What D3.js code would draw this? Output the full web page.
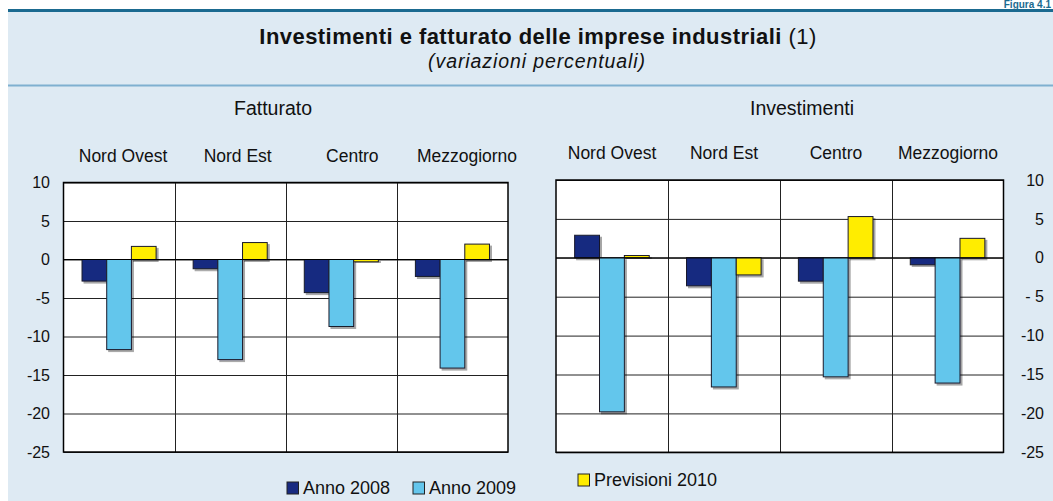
<!DOCTYPE html>
<html><head><meta charset="utf-8">
<script src="https://cdn.jsdelivr.net/npm/d3@7"></script>
<style>
html,body{margin:0;padding:0;background:#fff;}
svg{display:block;font-family:"Liberation Sans",Arial,Helvetica,sans-serif;}
</style></head>
<body>
<script>
const categories = ["Nord Ovest","Nord Est","Centro","Mezzogiorno"];
const seriesNames = ["Anno 2008","Anno 2009","Previsioni 2010"];
const fatturato2008 = [-2.8,-1.2,-4.3,-2.2];
const fatturato2009 = [-11.7,-13.0,-8.7,-14.1];
const fatturato2010 = [1.7,2.2,-0.3,2.0];
const investimenti2008 = [2.9,-3.6,-3.0,-0.9];
const investimenti2009 = [-19.8,-16.6,-15.3,-16.1];
const investimenti2010 = [0.3,-2.2,5.3,2.5];
const tickValues = [10,5,0,-5,-10,-15,-20,-25];
const leftTickLabels = ["10","5","0","-5","-10","-15","-20","-25"];
const rightTickLabels = ["10","5","0","- 5","-10","-15","-20","-25"];
const titleBold = "Investimenti e fatturato delle imprese industriali";
const titleNote = " (1)";
const subtitle = "(variazioni percentuali)";
const panelTitles = ["Fatturato","Investimenti"];
const figureLabel = "Figura 4.1";

const colors = ["#182a80","#64c6ec","#ffed00"];
const W = 1053, H = 501;
const svg = d3.select("body").append("svg").attr("width",W).attr("height",H);

// background
svg.append("rect").attr("x",8).attr("y",10).attr("width",W-8).attr("height",H-10).attr("fill","#deeaf3");
svg.append("rect").attr("x",8).attr("y",9).attr("width",W-8).attr("height",3).attr("fill","#1b6a90");
svg.append("rect").attr("x",8).attr("y",84.5).attr("width",W-8).attr("height",2).attr("fill","#7fb0d0");
svg.append("text").attr("x",1051).attr("y",8).attr("text-anchor","end").attr("font-weight","bold")
  .attr("font-size",10).attr("fill","#1b6a90").text(figureLabel);

// titles
const t = svg.append("text").attr("x",538).attr("y",43.5).attr("text-anchor","middle").attr("font-size",22)
  .attr("letter-spacing",0.45).attr("fill","#111");
t.append("tspan").attr("font-weight","bold").text(titleBold);
t.append("tspan").text(titleNote);
svg.append("text").attr("x",537).attr("y",68).attr("text-anchor","middle").attr("font-size",19.5)
  .attr("letter-spacing",0.9).attr("font-style","italic").attr("fill","#111").text(subtitle);

const defs = svg.append("defs");
const f = defs.append("filter").attr("id","sh").attr("x","-20%").attr("y","-20%").attr("width","150%").attr("height","150%");
f.append("feOffset").attr("in","SourceAlpha").attr("dx",1.5).attr("dy",1.5).attr("result","o");
f.append("feGaussianBlur").attr("in","o").attr("stdDeviation",0.6).attr("result","b");
f.append("feComponentTransfer").attr("in","b").attr("result","c").append("feFuncA").attr("type","linear").attr("slope",0.35);
const m = f.append("feMerge"); m.append("feMergeNode").attr("in","c"); m.append("feMergeNode").attr("in","SourceGraphic");

function panel(cfg){
  const {x0,x1,yTop,yBot,data,tickLabels,side,title,titleX,titleY,catY,labelRange} = cfg;
  const x = d3.scaleBand().domain(categories).range([x0,x1]);
  const xs = d3.scaleBand().domain(seriesNames).range([0,x.bandwidth()]).paddingOuter(0.75).paddingInner(0);
  const y = d3.scaleLinear().domain([-25,10]).range([yBot,yTop]);
  const g = svg.append("g");
  g.append("rect").attr("x",x0).attr("y",yTop).attr("width",x1-x0).attr("height",yBot-yTop).attr("fill","#fff");
  // grid
  const grid = g.append("g").attr("transform",`translate(${side==="left"?x0:x1},0)`)
    .call((side==="left"?d3.axisLeft(y):d3.axisRight(y)).tickValues(tickValues)
      .tickSize(-(x1-x0)).tickFormat(""));
  grid.select(".domain").remove();
  grid.selectAll(".tick line").attr("stroke","#222").attr("stroke-width",1);
  // vertical separators
  g.selectAll("line.sep").data(categories.slice(1)).join("line")
    .attr("x1",d=>Math.round(x(d))+0.5).attr("x2",d=>Math.round(x(d))+0.5).attr("y1",yTop).attr("y2",yBot)
    .attr("stroke","#222").attr("stroke-width",1);
  // bars
  const rows = categories.map((c,i)=>({c, vals: data.map((s,j)=>({s:seriesNames[j], v:s[i], j}))}));
  const bg = g.selectAll("g.grp").data(rows).join("g").attr("transform",d=>`translate(${x(d.c)},0)`);
  bg.selectAll("rect").data(d=>d.vals).join("rect")
    .attr("x",d=>xs(d.s)).attr("width",xs.bandwidth())
    .attr("y",d=>y(Math.max(0,d.v))).attr("height",d=>Math.abs(y(d.v)-y(0)))
    .attr("fill",d=>colors[d.j]).attr("stroke","#1a1a2a").attr("stroke-width",1).attr("filter","url(#sh)");
  // zero line
  g.append("line").attr("x1",x0).attr("x2",x1).attr("y1",y(0)).attr("y2",y(0)).attr("stroke","#000").attr("stroke-width",1);
  // border
  g.append("rect").attr("x",x0).attr("y",yTop).attr("width",x1-x0).attr("height",yBot-yTop)
    .attr("fill","none").attr("stroke","#000").attr("stroke-width",1.5);
  // axis labels
  const ax = svg.append("g").attr("transform",`translate(${side==="left"?50:1044},0)`)
    .call(d3.axisLeft(y).tickValues(tickValues).tickSize(0).tickPadding(0).tickFormat((d,i)=>tickLabels[i]));
  ax.select(".domain").remove();
  ax.selectAll("text").attr("font-size",16).attr("fill","#111").attr("font-family","Liberation Sans, Arial, sans-serif");
  // titles
  svg.append("text").attr("x",titleX).attr("y",titleY).attr("text-anchor","middle").attr("font-size",19.5).attr("fill","#111").text(title);
  const lx = d3.scalePoint().domain(categories).range(labelRange);
  svg.selectAll(null).data(categories).join("text").attr("x",d=>lx(d)).attr("y",catY)
    .attr("text-anchor","middle").attr("font-size",17.5).attr("fill","#111").text(d=>d);
}

panel({x0:63.5,x1:508,yTop:182.5,yBot:452,data:[fatturato2008,fatturato2009,fatturato2010],
  tickLabels:leftTickLabels,side:"left",title:panelTitles[0],titleX:273,titleY:115,catY:162,labelRange:[123,467]});
panel({x0:556,x1:1003.5,yTop:180,yBot:452.3,data:[investimenti2008,investimenti2009,investimenti2010],
  tickLabels:rightTickLabels,side:"right",title:panelTitles[1],titleX:802,titleY:115,catY:159,labelRange:[612,948]});

// legend
const legend = [{x:287,y:482,i:0},{x:413,y:482,i:1},{x:578,y:474,i:2}];
const lg = svg.selectAll("g.leg").data(legend).join("g").attr("transform",d=>`translate(${d.x},${d.y})`);
lg.append("rect").attr("width",11.5).attr("height",12).attr("fill",d=>colors[d.i]).attr("stroke","#222").attr("stroke-width",1);
lg.append("text").attr("x",16).attr("y",12).attr("font-size",18).attr("fill","#111").text(d=>seriesNames[d.i]);
</script>
</body></html>
